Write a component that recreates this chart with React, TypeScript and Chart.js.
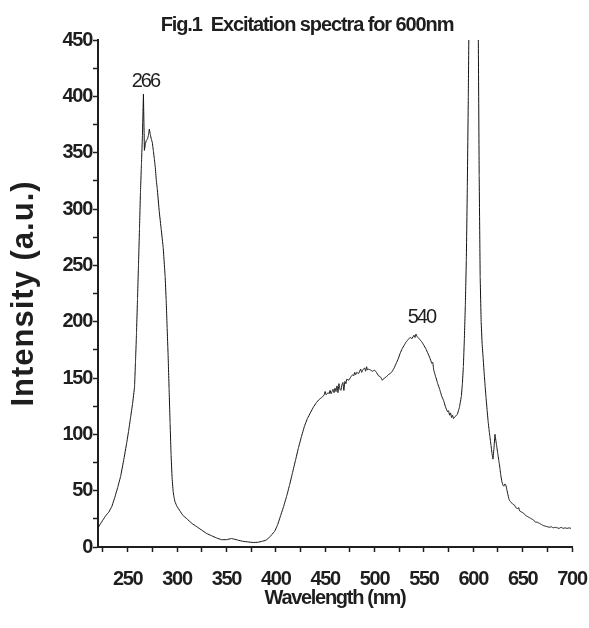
import React, { useEffect, useRef } from 'react';
import { Chart, registerables } from 'chart.js';

Chart.register(...registerables);

const TITLE = 'Fig.1  Excitation spectra for 600nm';
const X_TITLE = 'Wavelength (nm)';
const Y_TITLE = 'Intensity (a.u.)';
const X_MIN = 220;
const X_MAX = 700;
const Y_MIN = 0;
const Y_MAX = 450;
const X_TICKS = [225, 250, 275, 300, 325, 350, 375, 400, 425, 450, 475, 500, 525, 550, 575, 600, 625, 650, 675, 700];
const Y_TICKS = [0, 25, 50, 75, 100, 125, 150, 175, 200, 225, 250, 275, 300, 325, 350, 375, 400, 425, 450];

const wavelength = [
  220, 222, 225, 228, 231, 234, 237, 240, 243, 246,
  249, 251, 253, 255, 257, 258, 259, 260, 261, 262,
  263, 264, 265, 266, 267, 268, 269, 270, 271, 272,
  273, 274, 275, 276, 277, 278, 279, 280, 282, 284,
  286, 288, 289, 290, 291, 292, 293, 294, 295, 296,
  297, 298, 300, 303, 306, 310, 315, 320, 325, 330,
  335, 340, 345, 350, 355, 358, 362, 367, 372, 377,
  382, 386, 390, 393, 396, 399, 402, 405, 408, 411,
  414, 417, 420, 423, 426, 429, 432, 435, 438, 441,
  444, 447, 449, 450, 451, 452, 453, 454, 455, 456,
  457, 458, 459, 460, 461, 462, 463, 464, 465, 466,
  467, 468, 469, 470, 471, 472, 474, 476, 478, 479,
  480, 481, 482, 484, 486, 487, 488, 490, 491, 492,
  493, 494, 496, 498, 500, 502, 504, 506, 508, 510,
  512, 514, 516, 518, 520, 522, 524, 526, 528, 530,
  532, 534, 536, 538, 540, 541, 542, 543, 544, 546,
  548, 550, 552, 554, 556, 558, 559, 560, 562, 564,
  566, 568, 570, 572, 574, 575, 576, 577, 578, 579,
  580, 582, 584, 586, 588, 589, 590, 591, 592, 593,
  594, 595, 596, 598, 600, 602, 604, 605, 606, 607,
  608, 609, 610, 611, 612, 613, 614, 615, 616, 617,
  618, 619, 620, 621, 622, 623, 624, 625, 626, 627,
  628, 629, 630, 631, 632, 633, 634, 635, 636, 637,
  638, 640, 642, 643, 645, 646, 647, 649, 651, 653,
  655, 657, 659, 661, 663, 665, 667, 669, 671, 673,
  675, 677, 679, 681, 683, 685, 687, 689, 691, 693,
  695, 697, 699,
];

const intensity = [
  17, 20, 24, 28, 31, 36, 44, 53, 63, 77,
  92, 103, 115, 127, 142, 165, 190, 220, 250, 282,
  315, 340, 365, 402, 352, 358, 361, 362, 365, 371,
  366, 362, 359, 352, 345, 337, 326, 318, 298, 282,
  266, 240, 220, 195, 170, 140, 110, 82, 62, 50,
  44, 40, 36, 32, 28, 25, 21, 18, 15, 12,
  10, 8, 6.5, 6.5, 7.5, 7, 6, 5, 4.5, 4,
  4.2, 5, 6, 8, 11, 14, 20, 28, 36, 45,
  55, 66, 77, 88, 98, 107, 114, 119, 124, 128,
  131, 133, 135, 138, 135, 136, 137, 136, 139, 136,
  138, 140, 137, 141, 138, 143, 137, 145, 140, 139,
  144, 146, 139, 147, 145, 149, 148, 151, 153, 152,
  155, 153, 155, 154, 158, 155, 157, 159, 156, 160,
  157, 158, 157, 156, 157, 155, 152, 151, 148, 150,
  151, 153, 154, 156, 159, 163, 167, 172, 176, 179,
  182, 184, 186, 185, 188, 186, 189, 187, 186, 184,
  182, 179, 176, 172, 168, 163, 164, 157, 151, 145,
  140, 134, 130, 124, 120, 121, 117, 119, 115, 117,
  114, 116, 118, 124, 134, 145, 160, 185, 215, 255,
  320, 400, 500, 700, 900, 800, 600, 470, 330, 240,
  200, 180, 168, 155, 143, 132, 122, 112, 104, 97,
  90, 83, 78, 88, 100, 94, 88, 82, 76, 70,
  63, 58, 55, 54, 56, 55, 51, 47, 43, 41,
  40, 38, 37, 35, 34, 35, 32, 31, 30, 28,
  27, 26, 25, 24, 22, 22, 21, 20, 19, 18.5,
  18, 17.5, 18, 17, 17.5, 17, 16.5, 17.5, 16.5, 17,
  16.5, 17, 16.5,
];

const peakLabels = ['266', '540'];
const peakLabelWl = [268, 547.5];
const peakLabelVal = [408, 199];

const FONT = '"Liberation Sans", Arial, sans-serif';
const INK = '#1e1e1e';

export default function App() {
  const ref = useRef<HTMLCanvasElement | null>(null);

  useEffect(() => {
    document.body.style.margin = '0';
    const canvas = ref.current;
    if (!canvas) return;

    const textPlugin = {
      id: 'textPlugin',
      beforeDraw(chart: any) {
        chart.ctx.letterSpacing = '-1.3px';
      },
      afterDraw(chart: any) {
        const { ctx, scales, chartArea } = chart;
        ctx.save();
        ctx.fillStyle = INK;
        ctx.textAlign = 'center';
        ctx.textBaseline = 'alphabetic';
        ctx.font = `bold 20px ${FONT}`;
        ctx.letterSpacing = '-1.1px';
        ctx.fillText(TITLE, 307, 31);
        ctx.font = `20px ${FONT}`;
        ctx.letterSpacing = '-2px';
        peakLabels.forEach((t, i) => {
          ctx.fillText(t, scales.x.getPixelForValue(peakLabelWl[i]), scales.y.getPixelForValue(peakLabelVal[i]));
        });
        ctx.restore();

        ctx.save();
        ctx.fillStyle = INK;
        ctx.translate(24, (chartArea.top + chartArea.bottom) / 2);
        ctx.rotate(-Math.PI / 2);
        ctx.textAlign = 'center';
        ctx.textBaseline = 'middle';
        ctx.font = `bold 31px ${FONT}`;
        ctx.letterSpacing = '1px';
        ctx.fillText(Y_TITLE, 0, 0);
        ctx.restore();
      },
    };

    const chart = new Chart(canvas, {
      type: 'line',
      data: {
        datasets: [
          {
            data: wavelength.map((w, i) => ({ x: w, y: intensity[i] })),
            borderColor: '#111',
            borderWidth: 1,
            pointRadius: 0,
            tension: 0.01,
            fill: false,
          },
        ],
      },
      options: {
        responsive: false,
        animation: false,
        devicePixelRatio: 1,
        parsing: false,
        layout: { padding: { top: 40, right: 0, left: 0, bottom: 0 } },
        plugins: {
          legend: { display: false },
          tooltip: { enabled: false },
          title: { display: false },
        },
        scales: {
          x: {
            type: 'linear',
            min: X_MIN,
            max: X_MAX,
            afterBuildTicks: (scale: any) => {
              scale.ticks = X_TICKS.map((v) => ({ value: v }));
            },
            afterFit: (scale: any) => {
              scale.height = 81;
              scale.paddingLeft = 0;
              scale.paddingRight = 17;
            },
            ticks: {
              autoSkip: false,
              maxRotation: 0,
              padding: 15,
              color: INK,
              font: { family: FONT, size: 20, weight: 'bold' },
              callback: (v: any) => (Number(v) % 50 === 0 ? String(v) : ''),
            },
            grid: {
              display: true,
              drawOnChartArea: false,
              drawTicks: true,
              tickLength: 5,
              tickWidth: 1.5,
              tickColor: INK,
            },
            border: { display: true, color: INK, width: 2 },
            title: {
              display: true,
              text: X_TITLE,
              color: INK,
              font: { family: FONT, size: 20, weight: 'bold' },
              padding: { top: 0, bottom: 18 },
            },
          },
          y: {
            type: 'linear',
            min: Y_MIN,
            max: Y_MAX,
            afterBuildTicks: (scale: any) => {
              scale.ticks = Y_TICKS.map((v) => ({ value: v }));
            },
            afterFit: (scale: any) => {
              scale.width = 98;
            },
            ticks: {
              autoSkip: false,
              padding: 1,
              color: INK,
              font: { family: FONT, size: 20, weight: 'bold' },
              callback: (v: any) => (Number(v) % 50 === 0 ? String(v) : ''),
            },
            grid: {
              display: true,
              drawOnChartArea: false,
              drawTicks: true,
              tickLength: 5,
              tickWidth: 1.5,
              tickColor: INK,
            },
            border: { display: true, color: INK, width: 2 },
            title: { display: false },
          },
        },
      },
      plugins: [textPlugin],
    } as any);

    return () => chart.destroy();
  }, []);

  return (
    <div style={{ width: 589, height: 628, background: '#fff' }}>
      <canvas ref={ref} width={589} height={628} style={{ display: 'block', width: 589, height: 628 }} />
    </div>
  );
}
